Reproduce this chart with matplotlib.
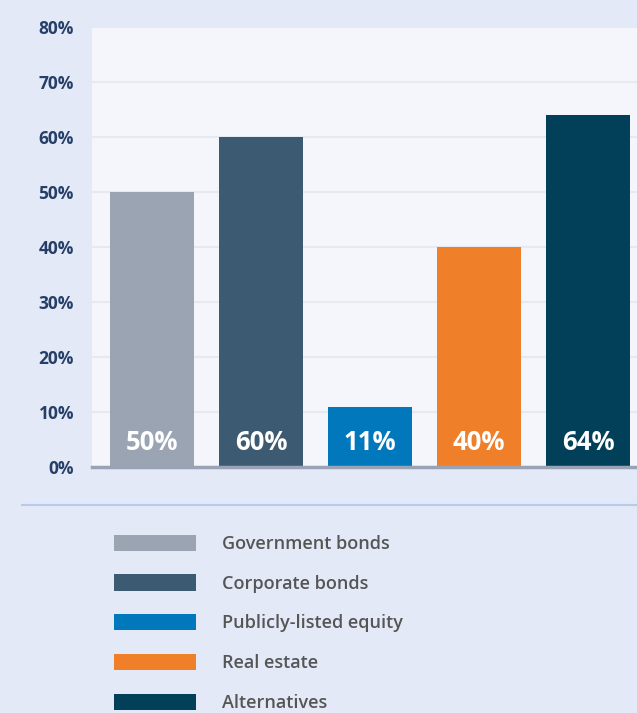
import matplotlib
matplotlib.use("Agg")
import matplotlib.pyplot as plt
from matplotlib.patches import Patch
from matplotlib.lines import Line2D
from matplotlib.ticker import FuncFormatter

categories = ["Government bonds", "Corporate bonds", "Publicly-listed equity", "Real estate", "Alternatives"]
values = [50, 60, 11, 40, 64]
colors = ["#9aa4b2", "#3c5a72", "#0278bc", "#f07f2a", "#023f58"]
yticks = [0, 10, 20, 30, 40, 50, 60, 70, 80]

FONT = ["Open Sans", "DejaVu Sans"]
plt.rcParams["font.family"] = FONT

fig = plt.figure(figsize=(6.37, 7.13), dpi=100)
fig.patch.set_facecolor("#e3e9f6")

W, H = 637, 713
ax = fig.add_axes([92 / W, (H - 467) / H, (637 - 92) / W, (467 - 27) / H])
ax.set_facecolor("#f4f6fb")

x = list(range(len(categories)))
bars = ax.bar(x, values, width=0.77, color=colors, zorder=3)

ax.set_xlim(-0.55, 4.45)
ax.set_ylim(0, 80)
ax.set_yticks(yticks)
ax.yaxis.set_major_formatter(FuncFormatter(lambda v, p: f"{int(v)}%"))
ax.grid(axis="y", color="#e6e9f2", linewidth=1.5, zorder=0)
ax.set_xticks([])
ax.tick_params(axis="y", length=0, pad=13, labelsize=12.5, labelcolor="#263f68")
for lab in ax.get_yticklabels():
    lab.set_fontweight("bold")

for s in ["top", "right", "left"]:
    ax.spines[s].set_visible(False)
ax.spines["bottom"].set_color("#9aa3b5")
ax.spines["bottom"].set_linewidth(2.5)
ax.spines["bottom"].set_zorder(4)

for xi, v in zip(x, values):
    ax.annotate(f"{v}%", xy=(xi, 0), xytext=(0, 17.5), textcoords="offset points",
                ha="center", va="center", color="white", fontsize=18.5,
                fontweight="bold", zorder=5)

# separator line
fig.add_artist(Line2D([22 / W, 1.0], [(H - 505) / H, (H - 505) / H],
                      transform=fig.transFigure, color="#b9c9ea", linewidth=1.5))

handles = [Patch(facecolor=c, edgecolor="none") for c in colors]
leg = fig.legend(handles, categories, loc="upper left",
                 bbox_to_anchor=(107 / W, (H - 527.5) / H),
                 frameon=False, handlelength=4.54, handleheight=1.0,
                 handletextpad=1.44, labelspacing=1.19, borderaxespad=0,
                 prop={"family": FONT, "weight": "semibold", "size": 13})
for t in leg.get_texts():
    t.set_color("#555555")

fig.savefig("out.png", dpi=100, facecolor=fig.get_facecolor())
